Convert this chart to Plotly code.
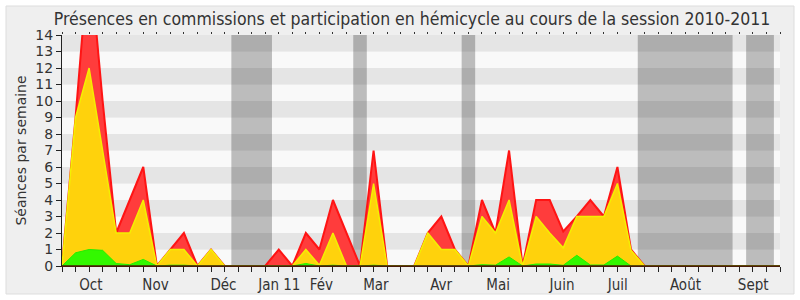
import plotly.graph_objects as go

# Week index (0 = last week of Sept 2010 ... 53)
weeks = list(range(54))

# cumulative levels (séances par semaine)
total_red = [0, 9, 19, 10, 2, 4, 6, 0, 1, 2, 0, 1, 0, 0, 0, 0, 1, 0, 2, 1,
             4, 2, 0, 7, 0, 0, 0, 2, 3, 1, 0, 4, 2, 7, 0, 4, 4, 2.1, 3, 4,
             3, 6, 1, 0, 0, 0, 0, 0, 0, 0, 0, 0, 0, 0]
level_yellow = [0, 9, 12, 7, 2, 2, 4, 0, 1, 1, 0, 1, 0, 0, 0, 0, 0, 0, 1, 0.05,
                2, 0, 0, 5, 0, 0, 0, 2, 1, 1, 0, 3, 2, 4, 0, 3, 2, 1.1, 3, 3,
                3, 5, 0.95, 0, 0, 0, 0, 0, 0, 0, 0, 0, 0, 0]
level_green = [0, 0.8, 1.0, 0.95, 0.15, 0.08, 0.4, 0, 0.05, 0.05, 0, 0, 0, 0, 0, 0, 0, 0, 0.15, 0,
               0.05, 0, 0, 0.05, 0, 0, 0, 0.04, 0.04, 0.04, 0, 0.08, 0.05, 0.55, 0, 0.12, 0.12, 0.04, 0.65, 0.06,
               0.06, 0.6, 0, 0, 0, 0, 0, 0, 0, 0, 0, 0, 0, 0]

month_pos = [2.13, 6.9, 11.92, 16.04, 19.15, 23.17, 27.99, 32.19, 36.91, 41.02, 46.02, 51.02]
month_labels = ["Oct", "Nov", "Déc", "Jan 11", "Fév", "Mar", "Avr", "Mai", "Juin", "Juil", "Août", "Sept"]

# vacation periods (in week units)
vac_start = [12.5, 21.5, 29.5, 42.5, 50.5]
vac_end = [15.5, 22.5, 30.5, 49.5, 52.55]

FONT = "DejaVu Sans Condensed"
FONT_W = "DejaVu Sans"

fig = go.Figure()
fig.add_trace(go.Scatter(x=weeks, y=total_red, mode="lines", fill="tozeroy",
                         line=dict(color="#ff1414", width=2), fillcolor="#ff3c3c",
                         hoverinfo="skip", showlegend=False))
fig.add_trace(go.Scatter(x=weeks, y=level_yellow, mode="lines", fill="tozeroy",
                         line=dict(color="#f4f000", width=1.5), fillcolor="#ffd20c",
                         hoverinfo="skip", showlegend=False))
fig.add_trace(go.Scatter(x=weeks, y=level_green, mode="lines", fill="tozeroy",
                         line=dict(color="#22ee00", width=1), fillcolor="#33f800",
                         hoverinfo="skip", showlegend=False))
fig.add_trace(go.Scatter(x=[0], y=[0], xaxis="x2", mode="markers",
                         marker=dict(opacity=0), hoverinfo="skip", showlegend=False))

shapes = []
PL, PR, PT, PB = 62, 780, 35, 266
pw, ph = PR - PL, PB - PT
def px2x(px):
    return (px - PL) / pw
def py2y(py):
    return (PB - py) / ph
# outer frame
shapes.append(dict(type="rect", xref="paper", yref="paper",
                   x0=px2x(6), x1=px2x(794), y0=py2y(294), y1=py2y(6),
                   fillcolor="#efefef", line=dict(color="#dddddd", width=1), layer="below"))
# horizontal bands
for k in range(14):
    shapes.append(dict(type="rect", xref="x", yref="y", x0=0, x1=53, y0=k, y1=k + 1,
                       fillcolor="#e5e5e5" if k % 2 == 1 else "#f9f9f9",
                       line=dict(width=0), layer="below"))
# vacation bands
for a, b in zip(vac_start, vac_end):
    shapes.append(dict(type="rect", xref="x", yref="y", x0=a, x1=b, y0=0, y1=14,
                       fillcolor="rgba(0,0,0,0.245)", line=dict(width=0), layer="below"))
# dark baseline
shapes.append(dict(type="line", xref="x", yref="y", x0=0, x1=53, y0=0, y1=0,
                   line=dict(color="#4a1a08", width=1.5), layer="above"))

fig.update_layout(
    width=800, height=300,
    margin=dict(l=PL, r=800 - PR, t=PT, b=300 - PB, autoexpand=False),
    paper_bgcolor="white", plot_bgcolor="rgba(0,0,0,0)",
    font=dict(family=FONT, color="#333333"),
    title=dict(text="Présences en commissions et participation en hémicycle au cours de la session 2010-2011",
               x=0.515, xref="container", xanchor="center", y=1 - 19 / 300, yref="container",
               yanchor="middle", font=dict(size=17.5, family=FONT, color="#333333")),
    shapes=shapes,
    xaxis=dict(range=[0, 53], tickmode="array", tickvals=month_pos, ticktext=month_labels,
               ticks="outside", ticklen=5, tickcolor="rgba(0,0,0,0)", automargin=False,
               tickfont=dict(size=15, family=FONT, color="#333333"),
               showgrid=False, zeroline=False, showline=True, linecolor="#4a1a08", linewidth=1,
               minor=dict(tickmode="linear", tick0=0, dtick=1, ticks="outside", ticklen=5,
                          tickcolor="#222222", showgrid=False),
               fixedrange=True),
    xaxis2=dict(range=[0, 53], overlaying="x", side="top", anchor="y", tickmode="linear",
                tick0=0, dtick=1, ticks="outside", ticklen=2, tickcolor="#333333", automargin=False,
                showticklabels=False, showgrid=False, zeroline=False, showline=False),
    yaxis=dict(range=[0, 14], tickmode="linear", tick0=0, dtick=1, ticks="outside", ticklen=5,
               tickcolor="#222222", showline=True, linecolor="#222222", linewidth=1,
               showgrid=False, zeroline=False, automargin=False,
               tickfont=dict(size=14, family=FONT_W, color="#333333"),
               title=dict(text="Séances par semaine", font=dict(size=14, family=FONT_W, color="#333333"),
                          standoff=5)),
)

fig.write_html("out.html")
